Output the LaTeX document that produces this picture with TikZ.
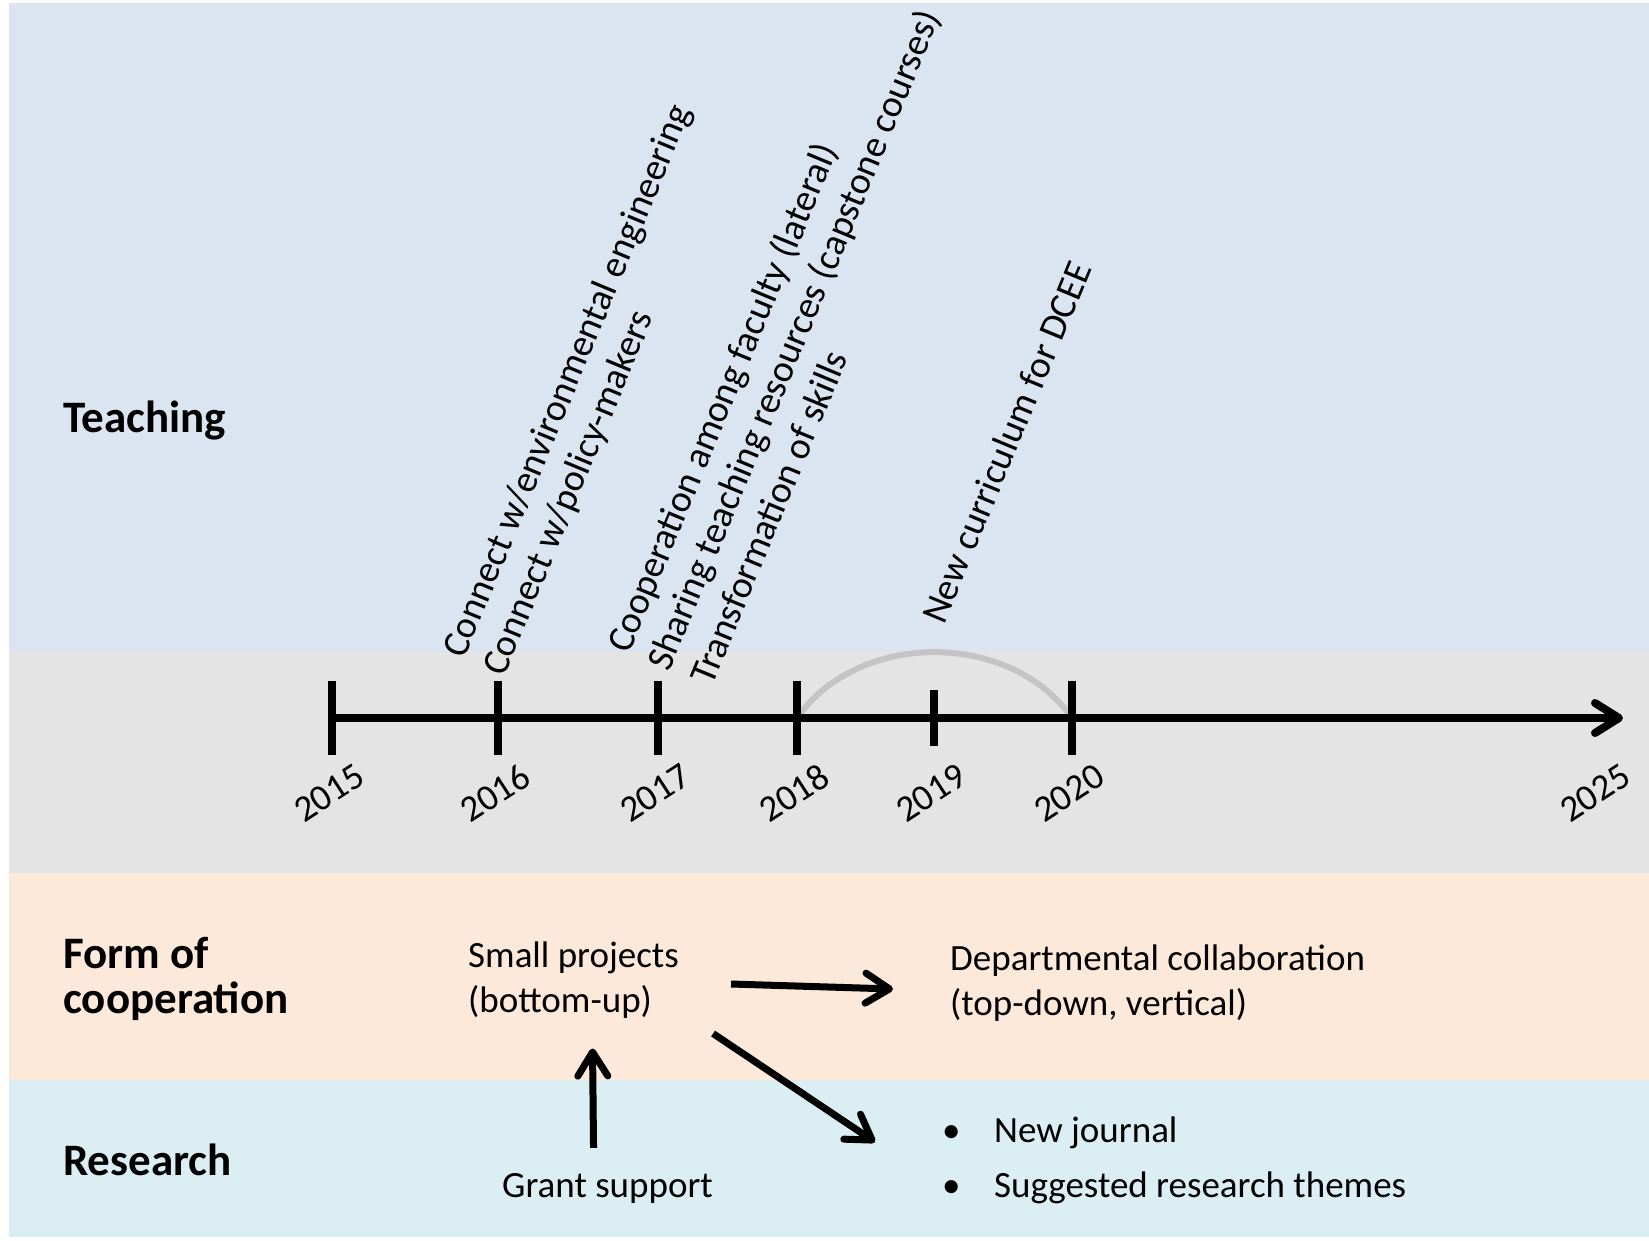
\documentclass[tikz,border=0pt]{standalone}
\usepackage{fontspec}
\setmainfont{Carlito}
\usetikzlibrary{arrows.meta}
\definecolor{teachbg}{HTML}{DBE5F1}
\definecolor{timebg}{HTML}{E4E4E4}
\definecolor{coopbg}{HTML}{FDE9D9}
\definecolor{resbg}{HTML}{DAEEF3}
\definecolor{arcgray}{HTML}{C4C4C4}
\begin{document}
\begin{tikzpicture}[x=1pt,y=-1pt,
  >={Straight Barb[length=24pt,width=30pt,round]},
  head/.style={font=\fontsize{45}{45}\selectfont\bfseries,inner sep=0,align=left},
  txt/.style={font=\fontsize{37}{45}\selectfont,inner sep=0,align=left},
  tilt/.style={txt,font=\fontsize{38}{45}\selectfont,rotate=67.5,anchor=base west},
  yr/.style={txt,rotate=33},
  arr/.style={->,line width=7pt}]
  \useasboundingbox (0,0) rectangle (1649,1240);
  % bands
  \fill[white] (0,0) rectangle (1649,1240);
  \fill[teachbg] (9,3) rectangle (1649,652);
  \fill[timebg] (9,652) rectangle (1649,873);
  \fill[coopbg] (9,873) rectangle (1649,1080);
  \fill[resbg] (9,1080) rectangle (1649,1237);
  % timeline
  \path (332,718) coordinate (t15)
    (498,718) coordinate (t16)
    (658,718) coordinate (t17)
    (797,718) coordinate (t18)
    (934,718) coordinate (t19)
    (1072,718) coordinate (t20)
    (1598,718) coordinate (t25)
    (1623,718) coordinate (tend);
  \draw[arcgray,line width=6pt] (t18) to[bend left=55] (t20);
  \draw[->,line width=8pt] (t15) -- (tend);
  \draw[line width=8pt] (t15)++(0,-37)--++(0,74) (t16)++(0,-37)--++(0,74)
    (t17)++(0,-37)--++(0,74) (t18)++(0,-37)--++(0,74)
    (t19)++(0,-28)--++(0,56) (t20)++(0,-37)--++(0,74);
  \node[yr] (y15) at ([shift={(-3,75)}]t15) {2015};
  \node[yr] (y16) at ([shift={(-3,75)}]t16) {2016};
  \node[yr] (y17) at ([shift={(-3,75)}]t17) {2017};
  \node[yr] (y18) at ([shift={(-3,75)}]t18) {2018};
  \node[yr] (y19) at ([shift={(-3,75)}]t19) {2019};
  \node[yr] (y20) at ([shift={(-3,75)}]t20) {2020};
  \node[yr] (y25) at ([shift={(-3,75)}]t25) {2025};
  % teaching
  \node[tilt] (env) at (464,660) {Connect w/environmental engineering};
  \node[tilt] (pol) at (504,678) {Connect w/policy-makers};
  \node[tilt] (fac) at (629,655) {Cooperation among faculty (lateral)};
  \node[tilt] (share) at (669,673) {Sharing teaching resources (capstone courses)};
  \node[tilt] (skill) at (712,687) {Transformation of skills};
  \node[tilt] (dcee) at (944,626) {New curriculum for DCEE};
  % rows
  \node[head,anchor=base west] (teach) at (63,432) {Teaching};
  \node[head,anchor=west] (coop) at (63,979) {Form of\\cooperation};
  \node[head,anchor=base west] (resrch) at (63,1175) {Research};
  \node[txt,anchor=west] (small) at (468,980) {Small projects\\(bottom-up)};
  \node[txt,anchor=west] (dept) at (950,983) {Departmental collaboration\\(top-down, vertical)};
  \node[txt,anchor=base west] (grant) at (502,1197) {Grant support};
  \node[txt,anchor=west,font=\fontsize{37}{55}\selectfont] (list) at (942,1160)
    {\makebox[52pt][l]{\textbullet}New journal\\\makebox[52pt][l]{\textbullet}Suggested research themes};
  \draw[arr] ([shift={(52,4)}]small.east) -- ([shift={(-57,6)}]dept.west);
  \draw[arr] ([shift={(34,15)}]small.south east) -- ([shift={(-67,-18)}]list.west);
  \draw[arr] ([shift={(-14,-25)}]grant.north) -- ([shift={(19,30)}]small.south);
\end{tikzpicture}
\end{document}
